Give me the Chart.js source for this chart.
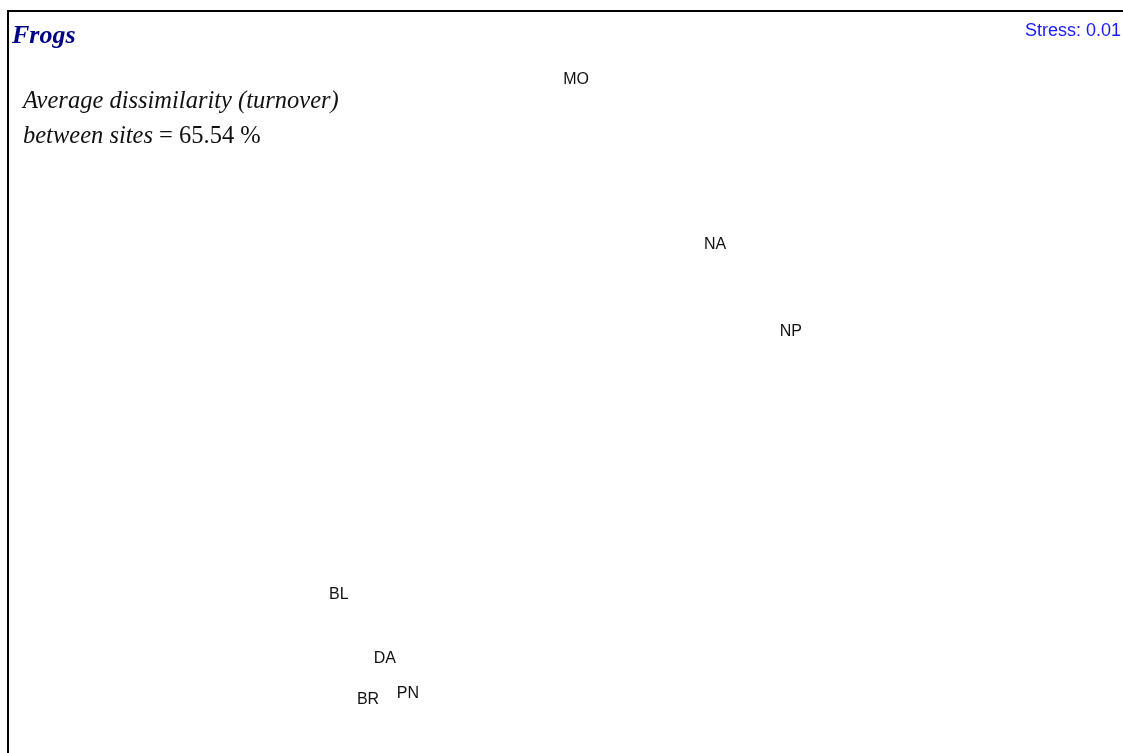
<!DOCTYPE html>
<html>
<head>
<meta charset="utf-8">
<script src="https://cdn.jsdelivr.net/npm/chart.js@4.4.1/dist/chart.umd.min.js"></script>
<style>
    html, body { margin: 0; padding: 0; background: #fff; }
    #wrap { width: 1123px; height: 753px; position: relative; }
</style>
</head>
<body>
<div id="wrap"><canvas id="nmdsChart" width="1123" height="753"></canvas></div>
<script>
// Site codes and their ordination scores (axis 1, axis 2)
const sites = ['MO', 'NA', 'NP', 'BL', 'DA', 'BR', 'PN'];
const axis1 = [0.052, 0.547, 0.817, -0.793, -0.629, -0.689, -0.547];
const axis2 = [1.183, 0.524, 0.180, -0.867, -1.122, -1.289, -1.265];

const titleText = 'Frogs';
const stressText = 'Stress: 0.01';
const dissimilarity = '65.54';

// Draws the site codes at their point positions
const siteLabels = {
    id: 'siteLabels',
    afterDatasetsDraw(chart) {
        const ctx = chart.ctx;
        const meta = chart.getDatasetMeta(0);
        ctx.save();
        ctx.font = '16px "Liberation Sans", Arial, sans-serif';
        ctx.fillStyle = '#111';
        ctx.textAlign = 'center';
        ctx.textBaseline = 'middle';
        meta.data.forEach((pt, i) => {
            ctx.fillText(sites[i], pt.x, pt.y);
        });
        ctx.restore();
    }
};

// Frame, title, stress value and the turnover note
const decorations = {
    id: 'decorations',
    afterDraw(chart) {
        const ctx = chart.ctx;
        const w = chart.width;
        const h = chart.height;
        ctx.save();

        ctx.strokeStyle = '#000';
        ctx.lineWidth = 2;
        ctx.beginPath();
        ctx.moveTo(8, h);
        ctx.lineTo(8, 11);
        ctx.lineTo(w, 11);
        ctx.stroke();

        ctx.textBaseline = 'alphabetic';
        ctx.textAlign = 'left';
        ctx.fillStyle = '#000080';
        ctx.font = 'italic bold 26px "Liberation Serif", "Times New Roman", serif';
        ctx.fillText(titleText, 12, 43);

        ctx.textAlign = 'right';
        ctx.fillStyle = '#1a1aff';
        ctx.font = '18px "Liberation Sans", Arial, sans-serif';
        ctx.fillText(stressText, 1121, 36);

        ctx.textAlign = 'left';
        ctx.fillStyle = '#111';
        const italic = 'italic 24.5px "Liberation Serif", "Times New Roman", serif';
        const upright = '24.5px "Liberation Serif", "Times New Roman", serif';
        ctx.font = italic;
        ctx.fillText('Average dissimilarity (turnover)', 23, 108);
        ctx.fillText('between sites', 23, 143);
        let x = 23 + ctx.measureText('between sites ').width;
        ctx.font = upright;
        ctx.fillText('= ' + dissimilarity + ' %', x, 143);

        ctx.restore();
    }
};

new Chart(document.getElementById('nmdsChart').getContext('2d'), {
    type: 'scatter',
    data: {
        datasets: [{
            label: 'Sites',
            data: sites.map((s, i) => ({ x: axis1[i], y: axis2[i] })),
            pointRadius: 0,
            pointHoverRadius: 0
        }]
    },
    options: {
        responsive: false,
        animation: false,
        layout: { padding: 0 },
        plugins: {
            legend: { display: false },
            tooltip: { enabled: false }
        },
        scales: {
            x: { type: 'linear', min: -2, max: 2, display: false },
            y: { type: 'linear', min: -1.5, max: 1.5, display: false }
        }
    },
    plugins: [siteLabels, decorations]
});
</script>
</body>
</html>
